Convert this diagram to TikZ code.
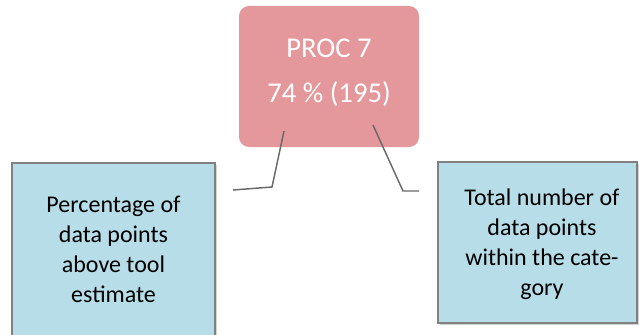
\documentclass[tikz,border=0pt]{standalone}
\usepackage{fontspec}
\setmainfont{Carlito}
\usetikzlibrary{shadows}
\definecolor{procpink}{RGB}{229,152,155}
\definecolor{infoblue}{RGB}{183,221,232}
\definecolor{leadgray}{RGB}{105,105,105}
\definecolor{edgegray}{RGB}{128,128,128}

\begin{document}
\begin{tikzpicture}[x=0.75pt,y=0.75pt,yscale=-1,xscale=1,
  procbox/.style={fill=procpink, rounded corners=7.5pt, minimum width=135pt, minimum height=105.75pt, inner sep=0pt},
  infobox/.style={fill=infoblue, draw=edgegray, line width=0.9pt, inner sep=0pt, drop shadow={shadow xshift=1.5pt, shadow yshift=-1.5pt, opacity=0.35, fill=gray}},
  leader/.style={draw=leadgray, line width=1.1pt},
  proctext/.style={text=white, align=center, font=\fontsize{21.5}{33.75}\selectfont},
  infotext/.style={align=center, font=\fontsize{18}{22.5}\selectfont}]
%set diagram frame, 639 x 335
\useasboundingbox (0,0) rectangle (639,335);

%Shape: Rectangle [id:proc]
\node [procbox] (proc) at (329,76.5) {};
%Shape: Rectangle [id:pct]
\node [infobox, minimum width=152.25pt, minimum height=132.75pt] (pctbox) at (113.5,251.5) {};
%Shape: Rectangle [id:tot]
\node [infobox, minimum width=149.25pt, minimum height=120.75pt] (totbox) at (537.5,242.5) {};

%Leader points
\coordinate (la) at (284,131);
\coordinate (lb) at (272,187);
\coordinate (lc) at (233,190);
\coordinate (ra) at (373,125);
\coordinate (rb) at (403,191);
\coordinate (rc) at (419,191);

%Straight Lines [id:left leader]
\draw [leader] (la) -- (lb) -- (lc) ;
%Straight Lines [id:right leader]
\draw [leader] (ra) -- (rb) -- (rc) ;

% Text Node
\node [proctext] (proclabel) at (329,72.5) {PROC 7\\74 \% (195)};
% Text Node
\node [infotext] (pcttext) at (113.5,249) {Percentage of\\data points\\above tool\\estimate};
% Text Node
\node [infotext] (tottext) at (542,244.5) {Total number of\\data points\\within the cate-\\gory};

\end{tikzpicture}
\end{document}
